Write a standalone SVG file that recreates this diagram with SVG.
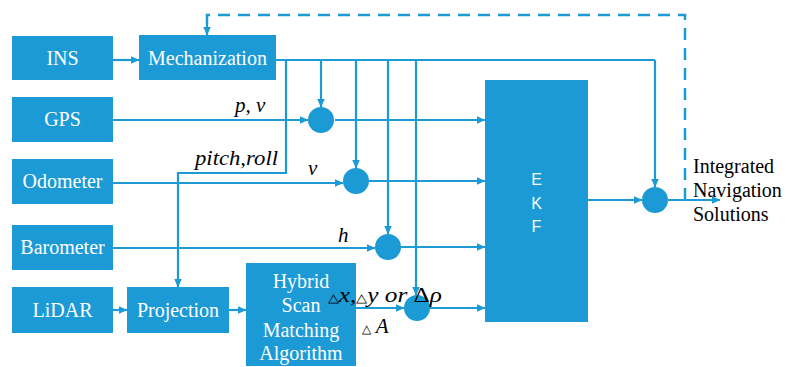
<svg xmlns="http://www.w3.org/2000/svg" width="786" height="367" viewBox="0 0 786 367">
<defs>
<marker id="ah" markerWidth="9" markerHeight="8" refX="8.5" refY="4" orient="auto" markerUnits="userSpaceOnUse">
<path d="M0,0 L9,4 L0,8 Z" fill="#1b9ad6"/>
</marker>
</defs>
<rect width="786" height="367" fill="#fff"/>
<g id="connectors" fill="none" stroke="#1b9ad6" stroke-width="2.2">
<path stroke-width="2.5" stroke-dasharray="12 8" d="M685,200 V15 H207 V26"/>
<path marker-end="url(#ah)" d="M207,24 V35"/>
<path marker-end="url(#ah)" d="M113,60 H139"/>
<path d="M276,60 H655"/>
<path marker-end="url(#ah)" d="M655,60 V187"/>
<path marker-end="url(#ah)" d="M321,60 V107"/>
<path marker-end="url(#ah)" d="M356,60 V168"/>
<path marker-end="url(#ah)" d="M388,60 V234"/>
<path marker-end="url(#ah)" d="M416,60 V295"/>
<path marker-end="url(#ah)" d="M286,60 V173 H178 V287"/>
<path marker-end="url(#ah)" d="M113,120 H308"/>
<path marker-end="url(#ah)" d="M113,183 H343"/>
<path marker-end="url(#ah)" d="M113,248 H375"/>
<path marker-end="url(#ah)" d="M356,308 H404"/>
<path marker-end="url(#ah)" d="M113,310 H127"/>
<path marker-end="url(#ah)" d="M229,310 H246"/>
<path marker-end="url(#ah)" d="M335,120 H485"/>
<path marker-end="url(#ah)" d="M369,181 H485"/>
<path marker-end="url(#ah)" d="M401,247 H485"/>
<path marker-end="url(#ah)" d="M430,308 H485"/>
<path marker-end="url(#ah)" d="M588,200 H642"/>
<path marker-end="url(#ah)" d="M668,200 H720"/>
</g>
<g id="INS"><rect fill="#1b9ad6" x="12" y="36" width="101" height="44"/><text font-family="Liberation Serif" font-size="20" fill="#fff" text-anchor="middle" x="62.5" y="65">INS</text></g>
<g id="Mechanization"><rect fill="#1b9ad6" x="139" y="35" width="137" height="45"/><text font-family="Liberation Serif" font-size="20" fill="#fff" text-anchor="middle" x="207.5" y="65">Mechanization</text></g>
<g id="GPS"><rect fill="#1b9ad6" x="12" y="97" width="101" height="45"/><text font-family="Liberation Serif" font-size="20" fill="#fff" text-anchor="middle" x="62.5" y="126">GPS</text></g>
<g id="Odometer"><rect fill="#1b9ad6" x="12" y="159" width="101" height="45"/><text font-family="Liberation Serif" font-size="20" fill="#fff" text-anchor="middle" x="62.5" y="188">Odometer</text></g>
<g id="Barometer"><rect fill="#1b9ad6" x="12" y="225" width="101" height="45"/><text font-family="Liberation Serif" font-size="20" fill="#fff" text-anchor="middle" x="62.5" y="254">Barometer</text></g>
<g id="LiDAR"><rect fill="#1b9ad6" x="12" y="287" width="101" height="46"/><text font-family="Liberation Serif" font-size="20" fill="#fff" text-anchor="middle" x="62.5" y="317">LiDAR</text></g>
<g id="Projection"><rect fill="#1b9ad6" x="127" y="287" width="102" height="46"/><text font-family="Liberation Serif" font-size="20" fill="#fff" text-anchor="middle" x="178" y="317">Projection</text></g>
<g id="Hybrid"><rect fill="#1b9ad6" x="246" y="263" width="110" height="103"/>
<text font-family="Liberation Serif" font-size="20" fill="#fff" text-anchor="middle" x="301" y="288">Hybrid</text>
<text font-family="Liberation Serif" font-size="20" fill="#fff" text-anchor="middle" x="301" y="312">Scan</text>
<text font-family="Liberation Serif" font-size="20" fill="#fff" text-anchor="middle" x="301" y="337">Matching</text>
<text font-family="Liberation Serif" font-size="20" fill="#fff" text-anchor="middle" x="301" y="360">Algorithm</text></g>
<g id="EKF"><rect fill="#1b9ad6" x="485" y="80" width="103" height="242"/>
<text font-family="Liberation Sans" font-size="16" fill="#fff" text-anchor="middle" x="536.5" y="185">E</text>
<text font-family="Liberation Sans" font-size="16" fill="#fff" text-anchor="middle" x="536.5" y="209">K</text>
<text font-family="Liberation Sans" font-size="16" fill="#fff" text-anchor="middle" x="536.5" y="232">F</text></g>
<g id="sum1"><circle fill="#1b9ad6" cx="321" cy="120" r="13"/></g>
<g id="sum2"><circle fill="#1b9ad6" cx="356" cy="181" r="13"/></g>
<g id="sum3"><circle fill="#1b9ad6" cx="388" cy="247" r="13"/></g>
<g id="sum4"><circle fill="#1b9ad6" cx="417" cy="308" r="13"/></g>
<g id="sum5"><circle fill="#1b9ad6" cx="655" cy="200" r="13"/></g>
<g id="labels">
<text font-family="Liberation Serif" font-style="italic" font-size="21" x="235" y="112">p, v</text>
<text font-family="Liberation Serif" font-style="italic" font-size="21" x="195" y="165" textLength="83" lengthAdjust="spacingAndGlyphs">pitch,roll</text>
<text font-family="Liberation Serif" font-style="italic" font-size="21" x="308" y="175">v</text>
<text font-family="Liberation Serif" font-style="italic" font-size="21" x="338" y="242">h</text>
<text font-family="Liberation Serif" font-style="italic" font-size="21" x="328" y="302" textLength="114" lengthAdjust="spacingAndGlyphs"><tspan font-style="normal" font-size="12">△</tspan>x,<tspan font-style="normal" font-size="12">△</tspan>y or <tspan font-style="normal">Δ</tspan>ρ</text>
<text font-family="Liberation Serif" font-style="italic" font-size="21" x="362" y="333"><tspan font-style="normal" font-size="12">△</tspan> A</text>
<text font-family="Liberation Serif" font-size="20" x="693" y="173">Integrated</text>
<text font-family="Liberation Serif" font-size="20" x="693" y="197">Navigation</text>
<text font-family="Liberation Serif" font-size="20" x="693" y="221">Solutions</text>
</g>
</svg>
